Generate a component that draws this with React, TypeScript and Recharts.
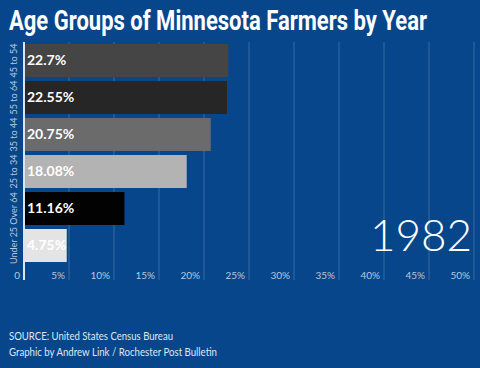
import React from 'react';
import { BarChart, Bar, XAxis, YAxis, CartesianGrid, Cell, LabelList } from 'recharts';

const ageGroups = ['45 to 54', '55 to 64', '35 to 44', '25 to 34', 'Over 64', 'Under 25'];
const shares = [22.7, 22.55, 20.75, 18.08, 11.16, 4.75];
const barColors = ['#454545', '#262626', '#6b6b6b', '#b3b3b3', '#020202', '#e4e4e4'];
const xTicks = [0, 5, 10, 15, 20, 25, 30, 35, 40, 45, 50];
const year = '1982';
const title = 'Age Groups of Minnesota Farmers by Year';
const sourceLine = 'SOURCE: United States Census Bureau';
const creditLine = 'Graphic by Andrew Link / Rochester Post Bulletin';

const data = ageGroups.map((g, i) => ({ group: g, share: shares[i] }));

const BG = '#07468a';
const TICK = '#b9c8de';
const GRID = '#3a6aa3';

function XTick({ x, y, payload }: { x?: number; y?: number; payload?: { value: number } }) {
  const v = payload?.value ?? 0;
  const yy = y ?? 0;
  return (
    <g>
      <line x1={x} x2={x} y1={yy - 8} y2={yy + 8} stroke={v === 0 ? '#dbe4f0' : GRID} strokeWidth={v === 0 ? 2 : 1} />
      <text x={(x ?? 0) - 4} y={yy + 7} textAnchor="end" fill={TICK} fontSize={10} fontFamily="Lato, sans-serif">
        {v === 0 ? '0' : `${v}%`}
      </text>
    </g>
  );
}

function YTick({ y, payload }: { x?: number; y?: number; payload?: { value: string } }) {
  return (
    <text
      x={17}
      y={y}
      transform={`rotate(-90, 17, ${y})`}
      textAnchor="middle"
      fill={TICK}
      fontSize={9}
      fontFamily="Lato, sans-serif"
    >
      {payload?.value}
    </text>
  );
}

export default function App() {
  return (
    <div style={{ position: 'absolute', left: 0, top: 0, width: 480, height: 368, background: BG, overflow: 'hidden' }}>
      <svg width={480} height={46} style={{ position: 'absolute', left: 0, top: 0 }}>
        <g transform="translate(9,30) scale(1,1.3)">
          <text
            x={0}
            y={0}
            fill="#ffffff"
            fontFamily="Roboto, sans-serif"
            fontWeight={700}
            fontSize={21}
            textLength={418}
            lengthAdjust="spacingAndGlyphs"
          >
            {title}
          </text>
        </g>
      </svg>
      <div style={{ position: 'absolute', left: 0, top: 0 }}>
        <BarChart
          width={480}
          height={300}
          data={data}
          layout="vertical"
          margin={{ top: 42, right: 6, bottom: 16, left: 0 }}
          barCategoryGap={4}
        >
          <CartesianGrid horizontal={false} stroke={GRID} />
          <XAxis
            type="number"
            domain={[0, 50]}
            ticks={xTicks}
            axisLine={false}
            tickLine={false}
            height={20}
            tick={<XTick />}
            interval={0}
          />
          <YAxis
            type="category"
            dataKey="group"
            width={24}
            axisLine={{ stroke: '#dbe4f0', strokeWidth: 2 }}
            tickLine={false}
            tick={<YTick />}
            interval={0}
          />
          <Bar dataKey="share" isAnimationActive={false} barSize={33}>
            {data.map((d, i) => (
              <Cell key={d.group} fill={barColors[i]} />
            ))}
            <LabelList
              dataKey="share"
              position="insideLeft"
              offset={3}
              fill="#ffffff"
              fontSize={14}
              fontWeight={700}
              fontFamily="Lato, sans-serif"
              formatter={(v: number) => `${v}%`}
            />
          </Bar>
        </BarChart>
      </div>
      <div
        style={{
          position: 'absolute',
          right: 8,
          top: 206,
          color: '#ffffff',
          fontFamily: 'Lato, sans-serif',
          fontWeight: 300,
          fontSize: 44,
          lineHeight: '56px',
        }}
      >
        {year}
      </div>
      <svg width={480} height={50} style={{ position: 'absolute', left: 0, top: 318 }}>
        <text x={9} y={22} fill="#dfe6f0" fontFamily="Lato, sans-serif" fontSize={11} textLength={164} lengthAdjust="spacingAndGlyphs">
          {sourceLine}
        </text>
        <text x={9} y={38} fill="#dfe6f0" fontFamily="Lato, sans-serif" fontSize={11} textLength={208} lengthAdjust="spacingAndGlyphs">
          {creditLine}
        </text>
      </svg>
    </div>
  );
}
